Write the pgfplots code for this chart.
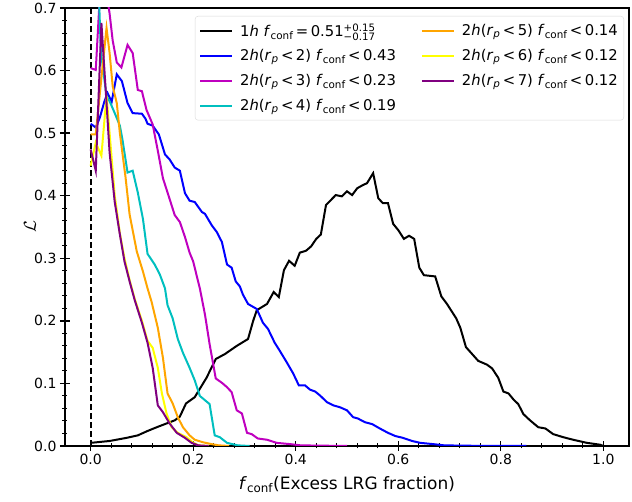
\documentclass[border=0pt]{standalone}
\usepackage{fontspec}
\setmainfont{DejaVu Sans}
\usepackage{pgfplots}
\pgfplotsset{compat=1.18}
\definecolor{mplm}{RGB}{191,0,191}
\definecolor{mplc}{RGB}{0,191,191}
\definecolor{mplorange}{RGB}{255,165,0}
\definecolor{mplyellow}{RGB}{255,255,0}
\definecolor{mplpurple}{RGB}{128,0,128}
\newcommand{\sfs}{\fontsize{10.2}{11}\selectfont}
\newcommand{\legsh}{\hspace*{5pt}}
\begin{document}
\begin{tikzpicture}
\begin{axis}[
  name=ax,
  scale only axis, width=564pt, height=438pt,
  xmin=-0.05, xmax=1.05, ymin=0, ymax=0.7,
  xtick={0,0.2,0.4,0.6,0.8,1.0},
  ytick={0,0.1,0.2,0.3,0.4,0.5,0.6,0.7},
  minor x tick num=4, minor y tick num=4,
  tick align=center, tick pos=left,
  major tick length=10pt, minor tick length=5pt,
  major tick style={black, line width=1.3pt},
  minor tick style={black, line width=1pt},
  axis line style={line width=1.6pt},
  ticklabel style={font=\fontsize{14}{16}\selectfont},
  xticklabel style={/pgf/number format/.cd, fixed, fixed zerofill, precision=1, assume math mode=true},
  yticklabel style={/pgf/number format/.cd, fixed, fixed zerofill, precision=1, assume math mode=true},
  xlabel={\textit{f}\textsubscript{conf}(Excess LRG fraction)},
  ylabel={$\mathcal{L}$},
  label style={font=\fontsize{17}{20}\selectfont},
  xlabel style={at={(axis description cs:0.5,-0.089)}, anchor=center},
  ylabel style={at={(axis description cs:-0.062,0.5)}, anchor=center},
  legend columns=2,
  legend cell align=left,
  legend image code/.code={\draw[#1] (0pt,0pt) -- (32pt,0pt);},
  legend style={at={(axis description cs:1,1)}, xshift=-5pt, yshift=-8pt, anchor=north east,
    draw=black!15, rounded corners=3pt, inner xsep=4pt, inner ysep=2pt,
    nodes={minimum height=25pt, inner ysep=0pt},
    fill=white, fill opacity=0.8, text opacity=1, font=\fontsize{14.8}{17}\selectfont,
    /tikz/every even column/.append style={column sep=23pt}, row sep=0pt},
]
\addplot[black, line width=1.8pt, dash pattern=on 6pt off 3pt, forget plot] coordinates {(0,0) (0,0.7)};
\addplot[black, line width=2pt, forget plot] coordinates {
(0.0,0.005) (0.037,0.008) (0.07,0.013) (0.092,0.017) (0.111,0.024) (0.129,0.030) (0.148,0.036) (0.164,0.041) (0.174,0.047) (0.186,0.068) (0.203,0.078) (0.226,0.109) (0.244,0.139) (0.262,0.147) (0.285,0.160) (0.307,0.171) (0.317,0.200) (0.324,0.217) (0.344,0.227) (0.357,0.246) (0.367,0.238) (0.377,0.281) (0.387,0.296) (0.398,0.288) (0.408,0.309) (0.42,0.312) (0.43,0.319) (0.44,0.331) (0.449,0.338) (0.459,0.385) (0.478,0.401) (0.49,0.399) (0.50,0.407) (0.51,0.401) (0.52,0.412) (0.531,0.417) (0.539,0.420) (0.551,0.436) (0.561,0.396) (0.57,0.388) (0.58,0.388) (0.59,0.355) (0.60,0.345) (0.611,0.331) (0.621,0.336) (0.631,0.331) (0.641,0.285) (0.65,0.273) (0.672,0.271) (0.684,0.239) (0.695,0.227) (0.713,0.204) (0.721,0.189) (0.732,0.158) (0.744,0.147) (0.756,0.136) (0.773,0.130) (0.783,0.124) (0.795,0.109) (0.805,0.087) (0.815,0.084) (0.825,0.074) (0.834,0.067) (0.844,0.051) (0.857,0.041) (0.873,0.030) (0.887,0.028) (0.902,0.019) (0.922,0.014) (0.941,0.010) (0.968,0.005) (0.994,0.002) (1.0,0.0)};
\addplot[blue, line width=2pt, forget plot] coordinates {
(0.0,0.515) (0.01,0.509) (0.018,0.525) (0.027,0.551) (0.033,0.564) (0.041,0.550) (0.051,0.594) (0.061,0.583) (0.072,0.548) (0.082,0.532) (0.10,0.531) (0.107,0.523) (0.111,0.515) (0.121,0.512) (0.133,0.498) (0.145,0.466) (0.154,0.458) (0.164,0.445) (0.174,0.440) (0.184,0.404) (0.193,0.392) (0.203,0.390) (0.217,0.374) (0.223,0.371) (0.236,0.353) (0.246,0.342) (0.256,0.326) (0.266,0.290) (0.275,0.285) (0.283,0.263) (0.291,0.255) (0.297,0.242) (0.307,0.227) (0.324,0.219) (0.336,0.197) (0.346,0.187) (0.359,0.165) (0.369,0.152) (0.383,0.133) (0.395,0.116) (0.406,0.097) (0.418,0.097) (0.428,0.090) (0.438,0.087) (0.447,0.081) (0.461,0.070) (0.473,0.065) (0.486,0.062) (0.50,0.057) (0.512,0.046) (0.521,0.044) (0.535,0.038) (0.549,0.035) (0.564,0.028) (0.58,0.021) (0.594,0.016) (0.609,0.013) (0.627,0.008) (0.643,0.005) (0.668,0.003) (0.69,0.001) (0.75,0.0003) (0.85,0.0)};
\addplot[mplm, line width=2pt, forget plot] coordinates {
(0.0,0.604) (0.01,0.601) (0.02,0.75) (0.03,0.73) (0.037,0.691) (0.043,0.648) (0.051,0.613) (0.06,0.605) (0.072,0.641) (0.082,0.628) (0.092,0.569) (0.10,0.567) (0.109,0.537) (0.121,0.514) (0.131,0.472) (0.141,0.428) (0.152,0.400) (0.164,0.369) (0.174,0.358) (0.184,0.334) (0.193,0.309) (0.200,0.295) (0.209,0.265) (0.213,0.252) (0.223,0.210) (0.232,0.163) (0.244,0.108) (0.256,0.101) (0.266,0.094) (0.275,0.086) (0.285,0.057) (0.295,0.052) (0.305,0.021) (0.314,0.019) (0.326,0.012) (0.344,0.010) (0.363,0.005) (0.389,0.003) (0.41,0.001) (0.5,0.0)};
\addplot[mplc, line width=2pt, forget plot] coordinates {
(0.0,0.80) (0.01,0.86) (0.02,0.63) (0.031,0.559) (0.037,0.551) (0.047,0.532) (0.057,0.512) (0.062,0.49) (0.072,0.437) (0.082,0.44) (0.092,0.405) (0.102,0.363) (0.111,0.307) (0.125,0.290) (0.135,0.274) (0.145,0.252) (0.150,0.225) (0.160,0.204) (0.170,0.171) (0.180,0.149) (0.193,0.125) (0.203,0.105) (0.213,0.080) (0.232,0.067) (0.242,0.017) (0.252,0.014) (0.266,0.005) (0.287,0.001) (0.31,0.0)};
\addplot[mplorange, line width=2pt, forget plot] coordinates {
(0.0,0.498) (0.01,0.498) (0.02,0.58) (0.031,0.668) (0.037,0.628) (0.043,0.575) (0.051,0.548) (0.057,0.500) (0.062,0.468) (0.068,0.43) (0.076,0.37) (0.09,0.311) (0.102,0.279) (0.111,0.252) (0.119,0.230) (0.131,0.189) (0.141,0.141) (0.150,0.084) (0.160,0.068) (0.170,0.046) (0.180,0.030) (0.193,0.017) (0.203,0.010) (0.219,0.006) (0.236,0.003) (0.25,0.001) (0.27,0.0)};
\addplot[mplyellow, line width=2pt, forget plot] coordinates {
(0.0,0.448) (0.01,0.485) (0.021,0.464) (0.031,0.56) (0.037,0.50) (0.047,0.40) (0.057,0.34) (0.066,0.30) (0.076,0.265) (0.086,0.235) (0.10,0.20) (0.111,0.168) (0.121,0.157) (0.131,0.125) (0.139,0.084) (0.148,0.052) (0.158,0.030) (0.170,0.021) (0.187,0.014) (0.199,0.006) (0.21,0.001) (0.23,0.0)};
\addplot[mplpurple, line width=2pt, forget plot] coordinates {
(0.0,0.474) (0.01,0.44) (0.021,0.676) (0.031,0.548) (0.037,0.469) (0.047,0.39) (0.057,0.338) (0.066,0.295) (0.076,0.263) (0.086,0.233) (0.10,0.197) (0.111,0.165) (0.121,0.125) (0.131,0.065) (0.141,0.054) (0.154,0.036) (0.168,0.021) (0.184,0.013) (0.197,0.005) (0.21,0.001) (0.23,0.0)};
\addlegendimage{black, line width=2pt}
\addlegendentry{\legsh 1\textit{h} \textit{f}\textsubscript{conf}\,=\,0.51$^{\mbox{\sfs +0.15}}_{\mbox{\sfs −0.17}}$}
\addlegendimage{mplorange, line width=2pt}
\addlegendentry{\legsh 2\textit{h}(\textit{r}\textsubscript{\textit{p}}\,<\,5) \textit{f}\textsubscript{conf}\,<\,0.14}
\addlegendimage{blue, line width=2pt}
\addlegendentry{\legsh 2\textit{h}(\textit{r}\textsubscript{\textit{p}}\,<\,2) \textit{f}\textsubscript{conf}\,<\,0.43}
\addlegendimage{mplyellow, line width=2pt}
\addlegendentry{\legsh 2\textit{h}(\textit{r}\textsubscript{\textit{p}}\,<\,6) \textit{f}\textsubscript{conf}\,<\,0.12}
\addlegendimage{mplm, line width=2pt}
\addlegendentry{\legsh 2\textit{h}(\textit{r}\textsubscript{\textit{p}}\,<\,3) \textit{f}\textsubscript{conf}\,<\,0.23}
\addlegendimage{mplpurple, line width=2pt}
\addlegendentry{\legsh 2\textit{h}(\textit{r}\textsubscript{\textit{p}}\,<\,7) \textit{f}\textsubscript{conf}\,<\,0.12}
\addlegendimage{mplc, line width=2pt}
\addlegendentry{\legsh 2\textit{h}(\textit{r}\textsubscript{\textit{p}}\,<\,4) \textit{f}\textsubscript{conf}\,<\,0.19}
\end{axis}
\pgfresetboundingbox
\path[use as bounding box] ([xshift=-65pt,yshift=-56pt]ax.south west) rectangle ([xshift=3pt,yshift=8pt]ax.north east);
\end{tikzpicture}
\end{document}
